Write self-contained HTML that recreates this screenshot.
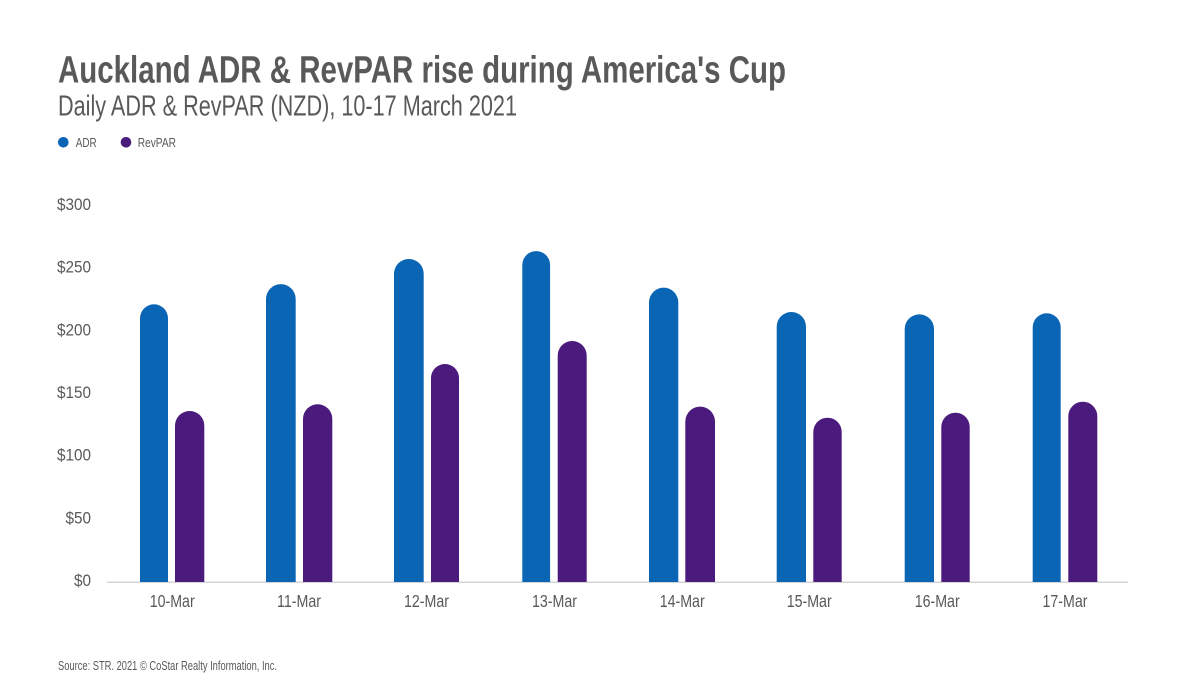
<!DOCTYPE html>
<html>
<head>
<meta charset="utf-8">
<style>
html,body{margin:0;padding:0;background:#fff;}
svg{display:block;}
text{font-family:"Liberation Sans Narrow","Liberation Sans",sans-serif;fill:#595959;}
</style>
</head>
<body>
<svg width="1200" height="682" viewBox="0 0 1200 682" xmlns="http://www.w3.org/2000/svg">
<rect width="1200" height="682" fill="#fff"/>
<text x="58" y="82.5" font-size="38" font-weight="bold" textLength="728" lengthAdjust="spacingAndGlyphs">Auckland ADR &amp; RevPAR rise during America's Cup</text>
<text x="58" y="115.7" font-size="28.5" textLength="459" lengthAdjust="spacingAndGlyphs">Daily ADR &amp; RevPAR (NZD), 10-17 March 2021</text>
<circle cx="63.3" cy="142.3" r="5.3" fill="#0a65b5"/>
<text x="75.7" y="147" font-size="13" textLength="21" lengthAdjust="spacingAndGlyphs">ADR</text>
<circle cx="126" cy="142.3" r="5.3" fill="#4a1a7d"/>
<text x="137.7" y="147" font-size="13" textLength="38.3" lengthAdjust="spacingAndGlyphs">RevPAR</text>
<g font-size="16.5" text-anchor="end">
<text x="91" y="210" textLength="34" lengthAdjust="spacingAndGlyphs">$300</text>
<text x="91" y="272.7" textLength="34" lengthAdjust="spacingAndGlyphs">$250</text>
<text x="91" y="335.3" textLength="34" lengthAdjust="spacingAndGlyphs">$200</text>
<text x="91" y="398" textLength="34" lengthAdjust="spacingAndGlyphs">$150</text>
<text x="91" y="460.7" textLength="34" lengthAdjust="spacingAndGlyphs">$100</text>
<text x="91" y="523.3" textLength="25.5" lengthAdjust="spacingAndGlyphs">$50</text>
<text x="91" y="586" textLength="17" lengthAdjust="spacingAndGlyphs">$0</text>
</g>
<line x1="107" y1="582.3" x2="1128" y2="582.3" stroke="#d4d4d4" stroke-width="1.5"/>
<g fill="#0a65b5">
<path d="M140,582 V318.3 A14,14 0 0 1 168,318.3 V582 Z"/>
<path d="M266,582 V299 A14.8,14.8 0 0 1 295.7,299 V582 Z"/>
<path d="M394,582 V273.8 A14.8,14.8 0 0 1 423.7,273.8 V582 Z"/>
<path d="M522.3,582 V265 A13.9,13.9 0 0 1 550.1,265 V582 Z"/>
<path d="M649,582 V302.3 A14.6,14.6 0 0 1 678.3,302.3 V582 Z"/>
<path d="M776.7,582 V326.6 A14.6,14.6 0 0 1 806,326.6 V582 Z"/>
<path d="M904.7,582 V329 A14.6,14.6 0 0 1 934,329 V582 Z"/>
<path d="M1032.7,582 V327.3 A14,14 0 0 1 1060.7,327.3 V582 Z"/>
</g>
<g fill="#4a1a7d">
<path d="M175,582 V425.6 A14.6,14.6 0 0 1 204.3,425.6 V582 Z"/>
<path d="M303,582 V418.9 A14.6,14.6 0 0 1 332.3,418.9 V582 Z"/>
<path d="M431,582 V378 A14,14 0 0 1 459,378 V582 Z"/>
<path d="M557.7,582 V355.5 A14.5,14.5 0 0 1 586.7,355.5 V582 Z"/>
<path d="M685.3,582 V421.5 A14.8,14.8 0 0 1 715,421.5 V582 Z"/>
<path d="M813.3,582 V431.9 A14.2,14.2 0 0 1 841.7,431.9 V582 Z"/>
<path d="M941.3,582 V426.9 A14.2,14.2 0 0 1 969.7,426.9 V582 Z"/>
<path d="M1068.3,582 V416.2 A14.5,14.5 0 0 1 1097.3,416.2 V582 Z"/>
</g>
<g font-size="17.5" text-anchor="middle">
<text x="172.2" y="607" textLength="45" lengthAdjust="spacingAndGlyphs">10-Mar</text>
<text x="299" y="607" textLength="44" lengthAdjust="spacingAndGlyphs">11-Mar</text>
<text x="426.5" y="607" textLength="45" lengthAdjust="spacingAndGlyphs">12-Mar</text>
<text x="554.5" y="607" textLength="45" lengthAdjust="spacingAndGlyphs">13-Mar</text>
<text x="682.2" y="607" textLength="45" lengthAdjust="spacingAndGlyphs">14-Mar</text>
<text x="809.2" y="607" textLength="45" lengthAdjust="spacingAndGlyphs">15-Mar</text>
<text x="937.2" y="607" textLength="45" lengthAdjust="spacingAndGlyphs">16-Mar</text>
<text x="1065" y="607" textLength="45" lengthAdjust="spacingAndGlyphs">17-Mar</text>
</g>
<text x="58" y="670" font-size="12.5" textLength="219" lengthAdjust="spacingAndGlyphs">Source: STR. 2021 © CoStar Realty Information, Inc.</text>
</svg>
</body>
</html>
